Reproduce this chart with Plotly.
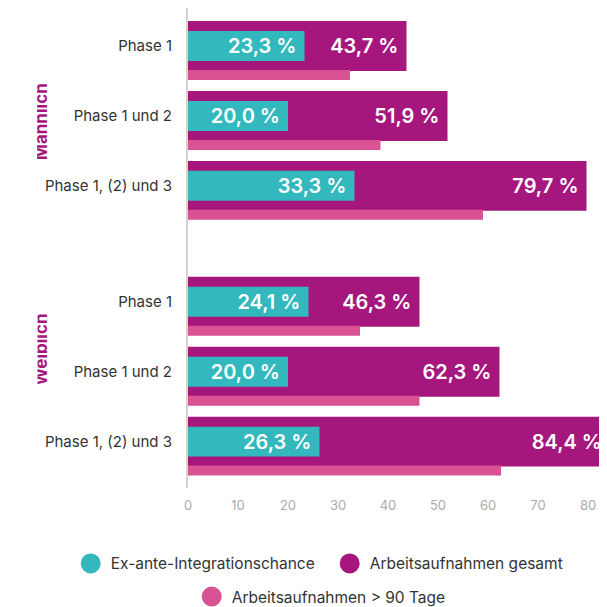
import plotly.graph_objects as go

# ---- data ----
categories = ["Phase 1", "Phase 1 und 2", "Phase 1, (2) und 3",
              "Phase 1", "Phase 1 und 2", "Phase 1, (2) und 3"]
groups = ["Männlich", "Weiblich"]
positions = [0, 1, 2, 3.657, 4.657, 5.657]
ex_ante = [23.3, 20.0, 33.3, 24.1, 20.0, 26.3]
gesamt = [43.7, 51.9, 79.7, 46.3, 62.3, 84.4]
ueber90 = [32.4, 38.5, 59.0, 34.4, 46.3, 62.6]
x_ticks = [0, 10, 20, 30, 40, 50, 60, 70, 80]

names = ["Ex-ante-Integrationschance", "Arbeitsaufnahmen gesamt", "Arbeitsaufnahmen > 90 Tage"]
TEAL = "#33b8bd"
MAGENTA = "#a6177d"
PINK = "#d95394"
FONT = "Inter"

fig = go.Figure()

label_font = dict(family=FONT, size=20, color="white", weight=600)

fig.add_trace(go.Bar(
    x=gesamt, y=positions, orientation="h", width=0.714,
    marker=dict(color=MAGENTA, line=dict(width=0)),
    texttemplate="%{x:.1f} %\u00a0", textposition="inside", insidetextanchor="end",
    insidetextfont=label_font, constraintext="none",
    showlegend=False, hoverinfo="skip",
))
fig.add_trace(go.Bar(
    x=ex_ante, y=positions, orientation="h", width=0.4286,
    marker=dict(color=TEAL, line=dict(width=0)),
    texttemplate="%{x:.1f} %\u00a0", textposition="inside", insidetextanchor="end",
    insidetextfont=label_font, constraintext="none",
    showlegend=False, hoverinfo="skip",
))
fig.add_trace(go.Bar(
    x=ueber90, y=positions, orientation="h", width=0.143, offset=0.343,
    marker=dict(color=PINK, line=dict(width=0)),
    showlegend=False, hoverinfo="skip",
))

# legend helper traces
for nm, col, lg in zip(names, [TEAL, MAGENTA, PINK], ["legend", "legend", "legend2"]):
    fig.add_trace(go.Scatter(
        x=[None], y=[None], mode="markers", name=nm, legend=lg,
        marker=dict(size=16, color=col, symbol="circle", line=dict(color=col, width=4)),
    ))

# group labels (top of glyphs clipped, as in the original)
for g, yv in zip(groups, [1.086, 4.34]):
    fig.add_annotation(
        text=g, textangle=-90, xref="paper", yref="y", x=-0.3372, y=yv,
        showarrow=False, xanchor="center", yanchor="middle",
        height=14, valign="bottom",
        font=dict(family=FONT, size=17, color=MAGENTA, weight=700),
    )

fig.update_layout(
    width=607, height=607,
    margin=dict(l=180, r=0, t=0, b=127),
    plot_bgcolor="white", paper_bgcolor="white",
    barmode="overlay",
    separators=",.",
    font=dict(family=FONT, color="#333333"),
    xaxis=dict(range=[0, 85.4], tickvals=x_ticks, showgrid=False, zeroline=False,
               showline=False, ticks="", ticklabelstandoff=8,
               tickfont=dict(family=FONT, size=13, color="#ababab")),
    yaxis=dict(range=[6.32, -0.543], tickvals=positions, ticktext=categories,
               showgrid=False, zeroline=False, showline=True, linecolor="#d8d2cc",
               linewidth=2, ticks="", ticklabelstandoff=11,
               tickfont=dict(family=FONT, size=15, color="#333333")),
    legend=dict(orientation="h", x=-0.2747, xanchor="left", y=-0.158, yanchor="middle",
                font=dict(family=FONT, size=15.5, color="#333333"),
                entrywidth=214, bgcolor="rgba(0,0,0,0)"),
    legend2=dict(orientation="h", x=0.0087, xanchor="left", y=-0.227, yanchor="middle",
                 font=dict(family=FONT, size=15.5, color="#333333"),
                 bgcolor="rgba(0,0,0,0)"),
)

fig.write_html("out.html")
